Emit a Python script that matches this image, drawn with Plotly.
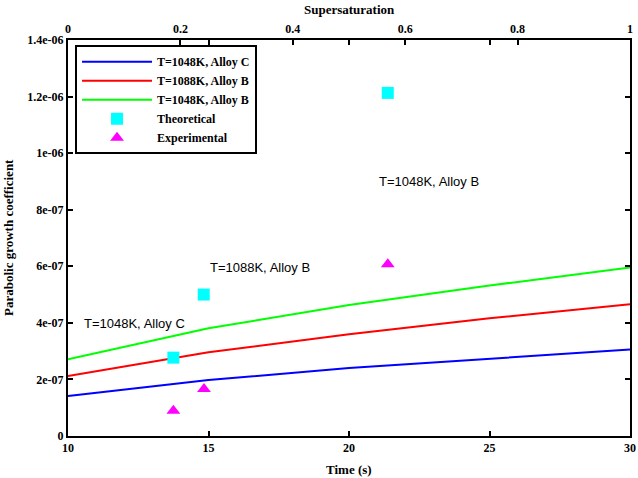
import plotly.graph_objects as go

# ---- data ----
time_s = [10, 15, 20, 25, 30]
k_1048_C = [1.41e-07, 1.98e-07, 2.40e-07, 2.74e-07, 3.06e-07]
k_1088_B = [2.12e-07, 2.96e-07, 3.60e-07, 4.16e-07, 4.66e-07]
k_1048_B = [2.71e-07, 3.81e-07, 4.63e-07, 5.32e-07, 5.96e-07]

theo_x = [13.75, 14.83, 21.38]
theo_y = [2.77e-07, 5.00e-07, 1.213e-06]
exp_x = [13.75, 14.84, 21.38]
exp_y = [0.89e-07, 1.66e-07, 6.07e-07]

label_text = ["T=1048K, Alloy C", "T=1088K, Alloy B", "T=1048K, Alloy B"]
label_x = [12.35, 16.83, 22.83]
label_y = [3.99e-07, 5.97e-07, 8.98e-07]

x_ticks = [10, 15, 20, 25, 30]
x2_ticks = [0, 0.2, 0.4, 0.6, 0.8, 1]
x2_ticklabels = ["0", "0.2", "0.4", "0.6", "0.8", "1"]
y_ticks = [0, 2e-07, 4e-07, 6e-07, 8e-07, 1e-06, 1.2e-06, 1.4e-06]
y_ticklabels = ["0", "2e-07", "4e-07", "6e-07", "8e-07", "1e-06", "1.2e-06", "1.4e-06"]

SERIF = "Liberation Serif"
tickfont = dict(family=SERIF, size=12, color="black", weight="bold")

fig = go.Figure()
fig.add_trace(go.Scatter(x=time_s, y=k_1048_C, mode="lines", name="T=1048K, Alloy C",
                         line=dict(color="#0000ff", width=2)))
fig.add_trace(go.Scatter(x=time_s, y=k_1088_B, mode="lines", name="T=1088K, Alloy B",
                         line=dict(color="#ff0000", width=2)))
fig.add_trace(go.Scatter(x=time_s, y=k_1048_B, mode="lines", name="T=1048K, Alloy B",
                         line=dict(color="#00ff00", width=2)))
fig.add_trace(go.Scatter(x=theo_x, y=theo_y, mode="markers", name="Theoretical",
                         marker=dict(symbol="square", size=12, color="#00ffff")))
fig.add_trace(go.Scatter(x=exp_x, y=exp_y, mode="markers", name="Experimental",
                         marker=dict(symbol="triangle-up", size=12, color="#ff00ff")))
# empty trace to activate the top axis
fig.add_trace(go.Scatter(x=[], y=[], xaxis="x2", yaxis="y", showlegend=False, hoverinfo="skip"))

for t, xx, yy in zip(label_text, label_x, label_y):
    fig.add_annotation(x=xx, y=yy, xref="x", yref="y", text=t, showarrow=False,
                       font=dict(family="Liberation Sans", size=13, color="black"))

# axis titles
fig.add_annotation(x=0.5, y=0, xref="paper", yref="paper", yshift=-33, text="Time (s)",
                   showarrow=False, yanchor="middle",
                   font=dict(family=SERIF, size=13, color="black", weight="bold"))
fig.add_annotation(x=0.5, y=1, xref="paper", yref="paper", yshift=31, text="Supersaturation",
                   showarrow=False, yanchor="middle",
                   font=dict(family=SERIF, size=13, color="black", weight="bold"))
fig.add_annotation(x=0, y=0.5, xref="paper", yref="paper", xshift=-60,
                   text="Parabolic growth coefficient", textangle=-90,
                   showarrow=False, xanchor="center",
                   font=dict(family=SERIF, size=13, color="black", weight="bold"))

axis_common = dict(showgrid=False, zeroline=False, showline=True, linecolor="black",
                   linewidth=2, ticks="inside", ticklen=5, tickwidth=1.5,
                   tickcolor="black", tickfont=tickfont, ticklabeloverflow="allow")

fig.update_layout(
    width=638, height=478,
    margin=dict(l=68, r=8, t=40, b=42, autoexpand=False),
    paper_bgcolor="white", plot_bgcolor="white",
    xaxis=dict(range=[10, 30], tickvals=x_ticks, mirror="ticks", **axis_common),
    xaxis2=dict(range=[0, 1], overlaying="x", side="top", anchor="y",
                tickvals=x2_ticks, ticktext=x2_ticklabels, **axis_common),
    yaxis=dict(range=[0, 1.4e-06], tickvals=y_ticks, ticktext=y_ticklabels,
               mirror="ticks", **axis_common),
    legend=dict(x=0.0125, y=0.987, xanchor="left", yanchor="top",
                bgcolor="white", bordercolor="black", borderwidth=2,
                font=dict(family=SERIF, size=12, color="black", weight="bold"),
                tracegroupgap=0, itemwidth=70),
    showlegend=True,
)

# remove the browser's default 8px body margin so the figure sits at the page corner
fig.write_html("out.html", config={"displayModeBar": False},
               post_script="document.body.style.margin='0';")
